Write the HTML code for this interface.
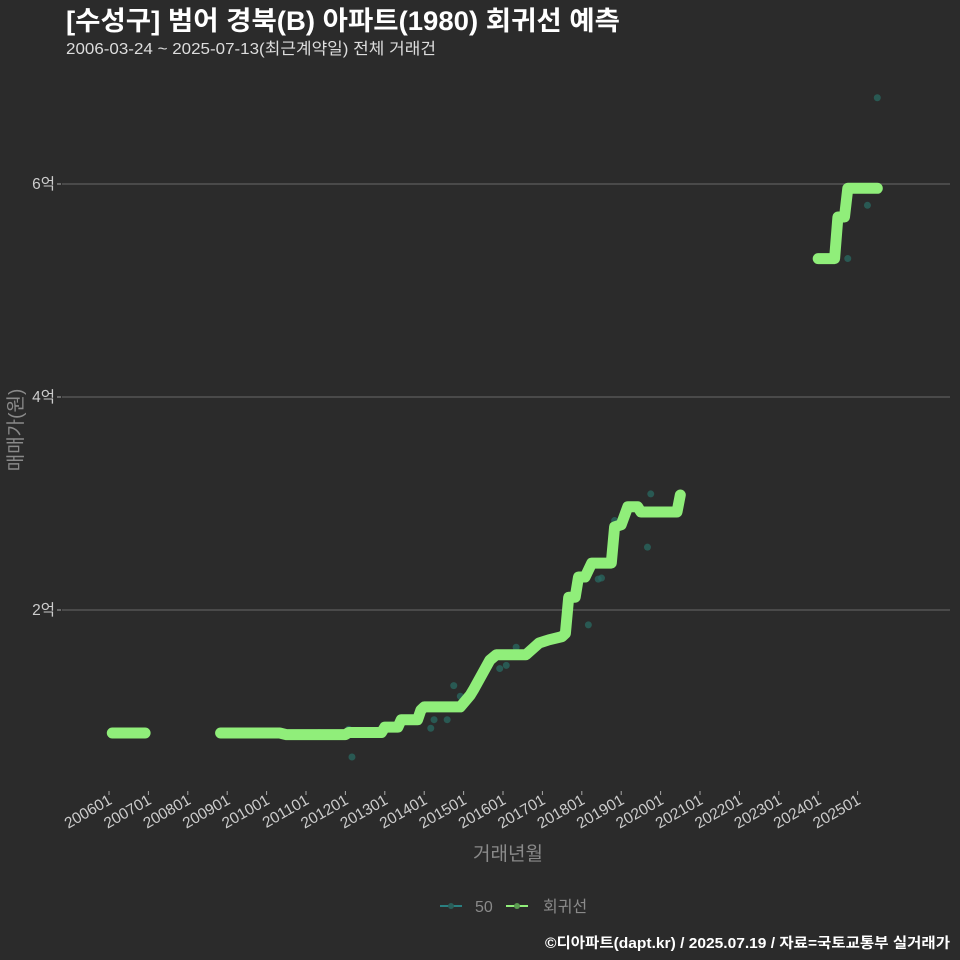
<!DOCTYPE html>
<html><head><meta charset="utf-8"><style>
body{margin:0;background:#2b2b2b;}
svg{display:block;font-family:"Liberation Sans","Noto Sans CJK KR",sans-serif;}
</style></head><body>
<svg id="chart" width="960" height="960" viewBox="0 0 960 960">
<rect width="960" height="960" fill="#2b2b2b"/>
<text x="66" y="30" font-size="26.5" font-weight="bold" fill="#ffffff" textLength="554" lengthAdjust="spacingAndGlyphs">[수성구] 범어 경북(B) 아파트(1980) 회귀선 예측</text>
<text x="66" y="54" font-size="16" fill="#dddddd" textLength="370" lengthAdjust="spacingAndGlyphs">2006-03-24 ~ 2025-07-13(최근계약일) 전체 거래건</text>
<g id="grid"></g>
<g id="yticks"></g>
<g id="xticks"></g>
<g id="points"></g>
<g id="lines"></g>
<text transform="translate(22,430) rotate(-90)" text-anchor="middle" font-size="19" fill="#8a8a8a">매매가(원)</text>
<text x="508" y="860" text-anchor="middle" font-size="19" fill="#8a8a8a">거래년월</text>
<g>
<g>
<line x1="440" y1="906" x2="462" y2="906" stroke="#2a7f80" stroke-width="2"/>
<circle cx="451" cy="906" r="3" fill="#2a5f5a"/>
<text x="475" y="912" font-size="16" fill="#8a8a8a">50</text>
</g>
<g>
<line x1="506" y1="906" x2="528" y2="906" stroke="#90ee7a" stroke-width="2"/>
<circle cx="517" cy="906" r="3" fill="#5a9a50"/>
<text x="543" y="912" font-size="16" fill="#8a8a8a">회귀선</text>
</g>
</g>
<text x="950" y="948" text-anchor="end" font-size="14.5" font-weight="bold" fill="#ffffff" textLength="405" lengthAdjust="spacingAndGlyphs">©디아파트(dapt.kr) / 2025.07.19 / 자료=국토교통부 실거래가</text>
</svg>
<script>
// months since 2006-01, values in 억
const yTicks = [2, 4, 6];
const xTickLabels = ["200601","200701","200801","200901","201001","201101","201201","201301","201401","201501","201601","201701","201801","201901","202001","202101","202201","202301","202401","202501"];
const lineMonths = [1,11,null,34,52,54,72,73,83,84,88,89,94,95,96,107,110,111,116,118,127,131,134,138,139,140,142,143,145,147,153,154,156,158,161,162,173,174,null,216,221,222,224,225,234];
const lineValues = [0.845,0.845,null,0.845,0.845,0.83,0.83,0.85,0.85,0.9,0.9,0.97,0.97,1.06,1.09,1.09,1.2,1.25,1.53,1.58,1.58,1.69,1.72,1.75,1.78,2.12,2.12,2.31,2.31,2.44,2.44,2.78,2.8,2.97,2.97,2.92,2.92,3.08,null,5.3,5.3,5.69,5.69,5.96,5.96];
const pointMonths = [64,74,73,98,99,103,105,107,119,121,124,146,149,150,154,164,165,225,231,234];
const pointValues = [0.85,0.62,0.88,0.89,0.97,0.97,1.29,1.19,1.45,1.48,1.65,1.86,2.29,2.3,2.84,2.59,3.09,5.3,5.8,6.81];

const NS = "http://www.w3.org/2000/svg";
const x = m => 109 + m * 39.4 / 12;
const y = v => 823 - v * 106.5;
function mk(tag, attrs, parent){const e=document.createElementNS(NS,tag);for(const k in attrs)e.setAttribute(k,attrs[k]);parent.appendChild(e);return e;}
const grid=document.getElementById('grid'), yt=document.getElementById('yticks'), xt=document.getElementById('xticks');
yTicks.forEach(v=>{
  const g=mk('line',{x1:62,x2:950,y1:y(v),y2:y(v),stroke:'#5e5e5e','stroke-width':1.2},grid);
  
  
  mk('line',{x1:57,x2:61,y1:y(v),y2:y(v),stroke:'#aaa'},yt);
  const t=mk('text',{x:55,y:y(v)+5,'text-anchor':'end','font-size':15.5,fill:'#cccccc'},yt);
  t.textContent=v+'억';
  
  
});
xTickLabels.forEach((lab,i)=>{
  const px=x(i*12);
  mk('line',{x1:px,x2:px,y1:791,y2:795,stroke:'#aaa'},xt);
  const t=mk('text',{x:px+4,y:803,'text-anchor':'end','font-size':15.5,fill:'#cccccc',transform:`rotate(-30 ${px+4} 803)`},xt);
  t.textContent=lab;
  
  
});
const pts=document.getElementById('points');
pointMonths.forEach((m,i)=>{
  const c=mk('circle',{cx:x(m),cy:y(pointValues[i]),r:3.5,fill:'#2a6a62','fill-opacity':0.75},pts);
  
  
});
const lg=document.getElementById('lines');
let d='',start=true;
lineMonths.forEach((m,i)=>{
  if(m===null){start=true;return;}
  d+=(start?'M':'L')+x(m).toFixed(1)+','+y(lineValues[i]).toFixed(1)+' ';start=false;
});
const p=mk('path',{d:d,fill:'none',stroke:'#90ee7a','stroke-width':11,'stroke-linecap':'round','stroke-linejoin':'round'},lg);


</script>
</body></html>
